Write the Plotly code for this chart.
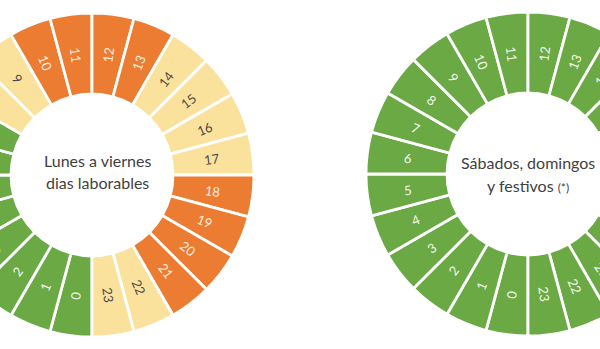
import math
import plotly.graph_objects as go

# Hourly tariff periods (2.0TD): valle / llano / punta
hours = list(range(24))
hour_labels = [str(h) for h in hours]
weekday_period = (["valle"] * 8 + ["llano"] * 2 + ["punta"] * 4 +
                  ["llano"] * 4 + ["punta"] * 4 + ["llano"] * 2)
weekend_period = ["valle"] * 24
slice_share = [1] * 24

period_color = {"valle": "#6aa944", "llano": "#fbe29c", "punta": "#ec7c31"}
period_text = {"valle": "#f4f8ee", "llano": "#4a4a4a", "punta": "#fdeee0"}

title_weekday = ["Lunes a viernes", "dias laborables"]
title_weekend = ["Sábados, domingos", "y festivos <span style='font-size:12px'>(*)</span>"]

W, H = 761, 349
SHIFT = 71          # page offset so both rings run off the edges
R = 162             # outer radius (px)
HOLE = 0.5
START = 180         # hour 0 starts at 6 o'clock, running clockwise
centers = [(92 + SHIFT, 175), (528 + SHIFT, 174)]


def ring(periods, cx, cy):
    return go.Pie(
        values=slice_share,
        labels=hour_labels,
        textinfo="none",
        marker=dict(colors=[period_color[p] for p in periods],
                    line=dict(color="white", width=2.8)),
        sort=False,
        direction="clockwise",
        rotation=START,
        hole=HOLE,
        hoverinfo="none",
        showlegend=False,
        domain=dict(x=[(cx - R) / W, (cx + R) / W],
                    y=[(H - cy - R) / H, (H - cy + R) / H]),
    )


def hour_annotations(periods, cx, cy):
    """Hour numbers placed mid-ring, rotated along the radius."""
    total = sum(slice_share)
    r_mid = R * (1 + HOLE) / 2
    out = []
    acc = 0
    for lab, share, p in zip(hour_labels, slice_share, periods):
        theta = (START + 360 * (acc + share / 2) / total) % 360
        acc += share
        t = math.radians(theta)
        x = cx + r_mid * math.sin(t)
        y = cy - r_mid * math.cos(t)
        rot = theta - 90 if theta < 180 else theta - 270
        out.append(dict(text=lab, x=x / W, y=(H - y) / H, xref="paper", yref="paper",
                        showarrow=False, xanchor="center", yanchor="middle",
                        textangle=rot,
                        font=dict(family="Lato", size=13, color=period_text[p])))
    return out


fig = go.Figure([ring(weekday_period, *centers[0]),
                 ring(weekend_period, *centers[1])])

ann = hour_annotations(weekday_period, *centers[0]) + hour_annotations(weekend_period, *centers[1])
for lines, x, ys in [(title_weekday, 97 + SHIFT, (160, 182)),
                     (title_weekend, 528 + SHIFT, (162, 185))]:
    for txt, y in zip(lines, ys):
        ann.append(dict(text=txt, x=x / W, y=(H - y) / H, xref="paper", yref="paper",
                        showarrow=False, xanchor="center", yanchor="middle",
                        font=dict(family="Lato", size=16, color="#3f3f3f")))

fig.update_layout(
    width=W, height=H,
    margin=dict(l=0, r=0, t=0, b=0),
    paper_bgcolor="white",
    plot_bgcolor="white",
    annotations=ann,
)

fig.write_html(
    "out.html",
    post_script=("document.body.style.margin='0';"
                 "document.body.style.overflow='hidden';"
                 "document.getElementById('{plot_id}').style.marginLeft='-%dpx';" % SHIFT),
)
